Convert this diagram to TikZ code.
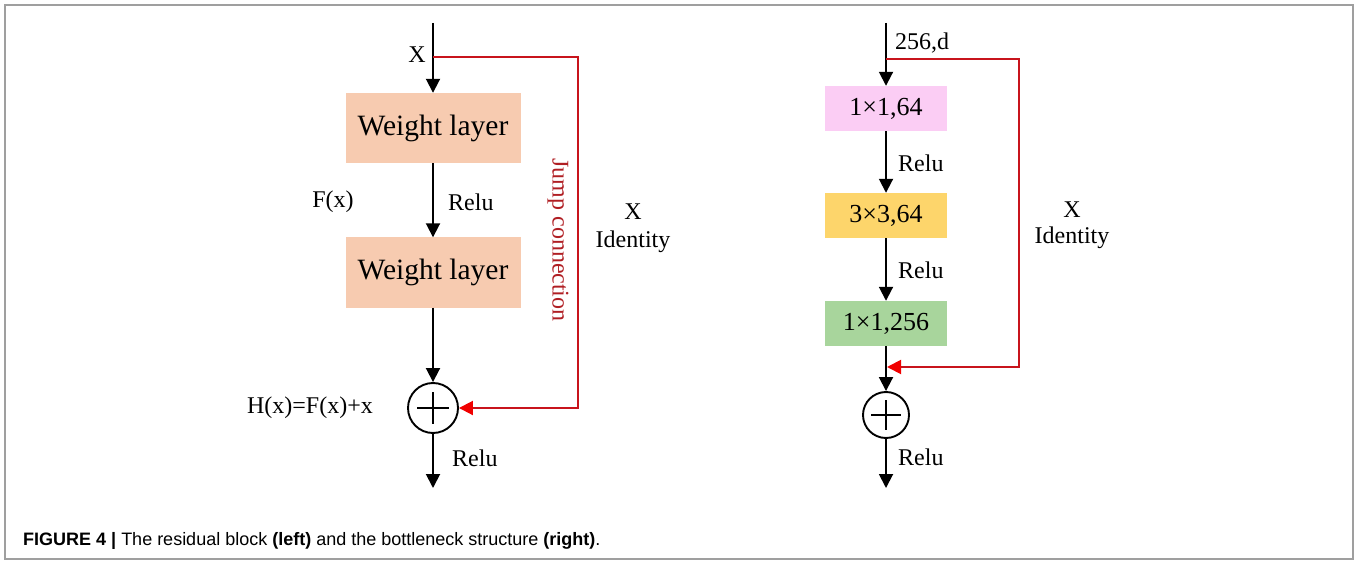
\documentclass[tikz,border=0pt]{standalone}
\usepackage{fontspec}
\setmainfont{Liberation Serif}
\newfontfamily\capfont{Liberation Sans}
\usetikzlibrary{arrows.meta}
\definecolor{weightfill}{HTML}{F7CBB0}
\definecolor{pinkfill}{HTML}{FBCDF4}
\definecolor{yellowfill}{HTML}{FDD56B}
\definecolor{greenfill}{HTML}{A8D59C}
\definecolor{jumpred}{HTML}{C8141C}
\definecolor{tipred}{HTML}{F00000}
\definecolor{textred}{HTML}{B01E23}
\begin{document}
\begin{tikzpicture}[x=1pt,y=-1pt,
  conn/.style={line width=1.9pt, -{Triangle[width=14pt,length=14pt]}},
  jump/.style={line width=1.9pt, draw=jumpred, -{Triangle[width=14pt,length=14pt,color=tipred,fill=tipred]}},
  wbox/.style={fill=weightfill, minimum width=175pt, minimum height=70pt, inner sep=0pt, font=\fontsize{29.5}{31}\selectfont},
  bbox/.style={minimum width=122pt, minimum height=45pt, inner sep=0pt, font=\fontsize{26}{28}\selectfont},
  lbl/.style={font=\fontsize{24}{26}\selectfont, inner sep=0pt},
  sumnode/.style={circle, draw, line width=1.9pt, inner sep=0pt},
  plusline/.style={line width=1.9pt},
]
\useasboundingbox (0,0) rectangle (1359,561);
\draw[gray!75, line width=2pt] (5,5) rectangle (1353,558.5);

% ---------------- left: residual block
\coordinate (ltop) at (433,23);
\coordinate (lsplit) at (433,57);
\coordinate (lcorner) at (578,408);
\coordinate (lout) at (433,488);
\node[wbox] (w1) at (433,128) {Weight layer};
\node[wbox] (w2) at (433,272.5) {Weight layer};
\node[sumnode, minimum size=50pt] (s1) at (433,408) {};
\draw[plusline] (s1.center) +(-16,0) -- +(16,0);
\draw[plusline] (s1.center) +(0,-16) -- +(0,16);
\draw[conn] (ltop) -- (w1);
\draw[conn] (w1) -- (w2);
\draw[conn] (w2) -- (s1);
\draw[conn] (s1) -- (lout);
\draw[jump] (lsplit) -| (lcorner) -- (s1.east);

\node[lbl] (lx) at (417,55) {X};
\node[lbl, anchor=west] (lrelu1) at (448,202) {Relu};
\node[lbl] (lfx) at (333,202) {F(x)};
\node[lbl] (lhx) at (310,408) {H(x)=F(x)+x};
\node[lbl, anchor=west] (lrelu2) at (452,458) {Relu};
\node[lbl, rotate=-90, text=textred] (ljump) at (558,240) {Jump connection};
\node[lbl] (lidx) at (633,212) {X};
\node[lbl] (lid) at (633,242) {Identity};

% ---------------- right: bottleneck
\coordinate (rtop) at (886,23);
\coordinate (rsplit) at (886,59);
\coordinate (rcorner) at (1019,367);
\coordinate (rmerge) at (887,367);
\coordinate (rout) at (886,488);
\node[bbox, fill=pinkfill] (b1) at (886,108.5) {1×1,64};
\node[bbox, fill=yellowfill] (b2) at (886,215.5) {3×3,64};
\node[bbox, fill=greenfill] (b3) at (886,323.5) {1×1,256};
\node[sumnode, minimum size=46pt] (s2) at (886,415) {};
\draw[plusline] (s2.center) +(-15,0) -- +(15,0);
\draw[plusline] (s2.center) +(0,-15) -- +(0,15);
\draw[conn] (rtop) -- (b1);
\draw[conn] (b1) -- (b2);
\draw[conn] (b2) -- (b3);
\draw[conn] (b3) -- (s2);
\draw[conn] (s2) -- (rout);
\draw[jump] (rsplit) -| (rcorner) -- (rmerge);

\node[lbl, anchor=west] (rd) at (895,43) {256,d};
\node[lbl, anchor=west] (rrelu1) at (898,163) {Relu};
\node[lbl, anchor=west] (rrelu2) at (898,270) {Relu};
\node[lbl, anchor=west] (rrelu3) at (898,457) {Relu};
\node[lbl] (ridx) at (1072,210) {X};
\node[lbl] (rid) at (1072,238) {Identity};

% ---------------- caption
\node[anchor=base west, inner sep=0pt, font=\capfont\fontsize{18}{20}\selectfont] (cap) at (23,545)
  {\textbf{FIGURE 4 |} The residual block \textbf{(left)} and the bottleneck structure \textbf{(right)}.};
\end{tikzpicture}
\end{document}
